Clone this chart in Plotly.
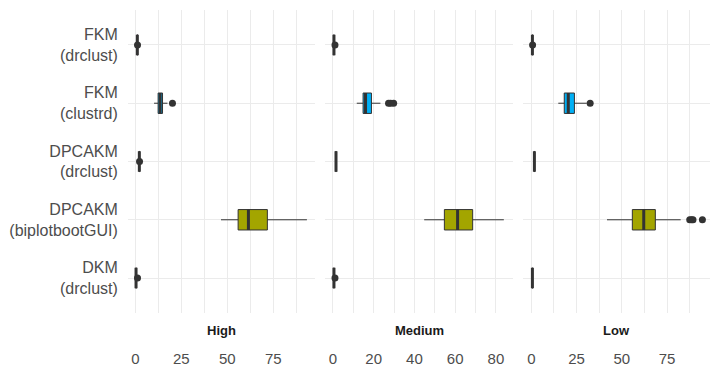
import plotly.graph_objects as go

# ---------------- data ----------------
categories = ["FKM (drclust)", "FKM (clustrd)", "DPCAKM (drclust)",
              "DPCAKM (biplotbootGUI)", "DKM (drclust)"]
category_labels = ["FKM<br>(drclust)", "FKM<br>(clustrd)", "DPCAKM<br>(drclust)",
                   "DPCAKM<br>(biplotbootGUI)", "DKM<br>(drclust)"]
fill_colors = ["#E76BF3", "#00B0F6", "#00BF7D", "#A3A500", "#F8766D"]
panels = ["High", "Medium", "Low"]

# box statistics, in category order
high_lower = [0.9, 10.2, 2.0, 46.6, 0.3]
high_q1 = [0.95, 12.4, 2.1, 55.9, 0.35]
high_median = [1.1, 13.5, 2.2, 61.5, 0.4]
high_q3 = [1.2, 14.8, 2.3, 71.8, 0.5]
high_upper = [1.3, 17.5, 2.4, 93.3, 0.55]
high_out_cat = ["FKM (drclust)", "FKM (clustrd)", "DPCAKM (drclust)", "DKM (drclust)"]
high_out_val = [1.2, 20.2, 2.3, 1.2]

medium_lower = [0.4, 11.7, 1.4, 44.8, 0.4]
medium_q1 = [0.45, 14.8, 1.45, 54.7, 0.45]
medium_median = [0.5, 16.0, 1.5, 61.2, 0.5]
medium_q3 = [0.55, 18.9, 1.55, 68.6, 0.55]
medium_upper = [0.6, 23.3, 1.6, 83.9, 0.6]
medium_out_cat = ["FKM (drclust)", "FKM (clustrd)", "FKM (clustrd)", "FKM (clustrd)", "DKM (drclust)"]
medium_out_val = [1.0, 27.3, 28.3, 29.8, 1.0]

low_lower = [0.5, 14.9, 1.6, 41.8, 0.5]
low_q1 = [0.55, 18.2, 1.65, 55.8, 0.55]
low_median = [0.6, 20.4, 1.7, 62.1, 0.6]
low_q3 = [0.65, 23.8, 1.75, 68.5, 0.65]
low_upper = [0.7, 30.6, 1.8, 82.5, 0.7]
low_out_cat = ["FKM (drclust)", "FKM (clustrd)", "DPCAKM (biplotbootGUI)",
               "DPCAKM (biplotbootGUI)", "DPCAKM (biplotbootGUI)", "DPCAKM (biplotbootGUI)"]
low_out_val = [0.7, 32.5, 87.5, 88.5, 89.3, 94.5]

high_ticks = [0, 25, 50, 75]
medium_ticks = [0, 20, 40, 60, 80]
low_ticks = [0, 25, 50, 75]

# ---------------- figure ----------------
# the page body has an 8px margin, so the figure is sized to fit the window
OFF = 8
W, H = 721 - OFF, 379 - OFF


def fx(px):
    return (px - OFF) / W


def fy(py):
    return 1 - (py - OFF) / H


panel_stats = [
    (high_lower, high_q1, high_median, high_q3, high_upper, high_out_cat, high_out_val),
    (medium_lower, medium_q1, medium_median, medium_q3, medium_upper, medium_out_cat, medium_out_val),
    (low_lower, low_q1, low_median, low_q3, low_upper, low_out_cat, low_out_val),
]
panel_ticks = [high_ticks, medium_ticks, low_ticks]
panel_minor = [12.5, 10, 12.5]
panel_ranges = [[-3.97, 97.7], [-3.9, 88.4], [-4.6, 98.7]]
panel_domains = [[fx(128), fx(315)], [fx(325), fx(513)], [fx(523), fx(710)]]

LINE = "#333333"
GRID = "#ebebeb"
FONT = "Liberation Sans, Arial, sans-serif"

fig = go.Figure()

for p, (lo, q1, med, q3, up, ocat, oval) in enumerate(panel_stats):
    xa = "x" if p == 0 else f"x{p + 1}"
    ya = "y" if p == 0 else f"y{p + 1}"
    for i, cat in enumerate(categories):
        fig.add_trace(go.Box(
            orientation="h", y=[cat],
            q1=[q1[i]], median=[med[i]], q3=[q3[i]],
            lowerfence=[lo[i]], upperfence=[up[i]],
            fillcolor=fill_colors[i], line=dict(color=LINE, width=1),
            whiskerwidth=0, boxpoints=False, showlegend=False,
            hoverinfo="skip", xaxis=xa, yaxis=ya,
        ))
    # thick median bars (ggplot style)
    fig.add_trace(go.Box(
        orientation="h", y=categories,
        q1=med, median=med, q3=med, lowerfence=med, upperfence=med,
        fillcolor="rgba(0,0,0,0)", line=dict(color=LINE, width=3),
        whiskerwidth=0, boxpoints=False, showlegend=False,
        hoverinfo="skip", xaxis=xa, yaxis=ya,
    ))
    # outliers
    fig.add_trace(go.Scatter(
        x=oval, y=ocat, mode="markers",
        marker=dict(color=LINE, size=7),
        showlegend=False, hoverinfo="skip", xaxis=xa, yaxis=ya,
        cliponaxis=False,
    ))

layout = dict(
    width=W, height=H,
    margin=dict(l=0, r=0, t=0, b=0),
    paper_bgcolor="white", plot_bgcolor="white",
    boxmode="overlay", boxgap=0.5,
    font=dict(family=FONT, size=16, color="#4d4d4d"),
    showlegend=False,
)

ydom = [fy(313), fy(10)]
for p in range(3):
    xk = "xaxis" if p == 0 else f"xaxis{p + 1}"
    yk = "yaxis" if p == 0 else f"yaxis{p + 1}"
    ya = "y" if p == 0 else f"y{p + 1}"
    layout[xk] = dict(
        domain=panel_domains[p], anchor=ya, range=panel_ranges[p],
        tickmode="array", tickvals=panel_ticks[p],
        ticktext=[str(t) for t in panel_ticks[p]],
        showgrid=True, gridcolor=GRID, gridwidth=1.1,
        minor=dict(dtick=panel_minor[p], tick0=0, showgrid=True,
                   gridcolor=GRID, gridwidth=0.6),
        zeroline=False, showline=False,
        ticks="outside", ticklen=32, tickcolor="rgba(0,0,0,0)",
        tickfont=dict(size=15, color="#4d4d4d", family=FONT),
    )
    layout[yk] = dict(
        domain=ydom, anchor="x" if p == 0 else f"x{p + 1}",
        type="category", categoryorder="array",
        categoryarray=categories[::-1], range=[-0.6, 4.6],
        tickmode="array", tickvals=categories, ticktext=category_labels,
        showticklabels=(p == 0),
        showgrid=True, gridcolor=GRID, gridwidth=1.1,
        zeroline=False, showline=False,
        ticks="outside", ticklen=6, tickcolor="rgba(0,0,0,0)",
        tickfont=dict(size=16, color="#4d4d4d", family=FONT),
    )
    if p > 0:
        layout[yk]["matches"] = "y"

annotations = []
for p, name in enumerate(panels):
    xref = "x domain" if p == 0 else f"x{p + 1} domain"
    annotations.append(dict(
        text=f"<b>{name}</b>", x=0.5, xref=xref, y=fy(330), yref="paper",
        showarrow=False, xanchor="center", yanchor="middle",
        font=dict(size=13, color="#1a1a1a", family=FONT),
    ))
layout["annotations"] = annotations

fig.update_layout(**layout)
fig.write_html("out.html")
